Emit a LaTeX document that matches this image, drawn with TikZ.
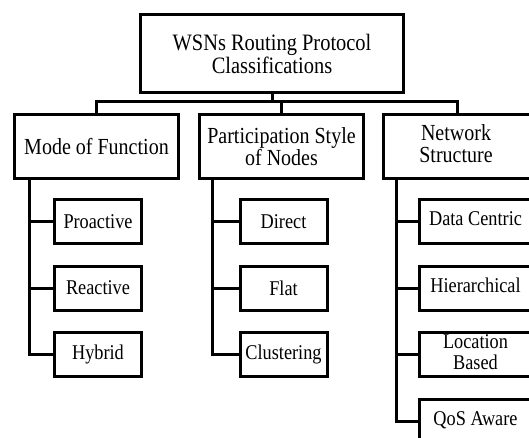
\documentclass[tikz,border=0pt]{standalone}
\usepackage{fontspec}
\setmainfont{Liberation Serif}[FakeStretch=0.87]
% centred text block with extra room on the right, for boxes running past the edge
\newcommand\padright[2]{\begin{tabular}{@{}c@{}}#2\end{tabular}\hspace*{#1}}
\begin{document}
\begin{tikzpicture}[x=1pt,y=-1pt,line width=3pt,
  box/.style={draw,inner sep=0pt,align=center,line width=3pt},
  root/.style={box,minimum width=263pt,minimum height=78pt,font=\fontsize{23.5}{23}\selectfont},
  cat/.style={box,minimum width=164pt,minimum height=64pt,font=\fontsize{23}{22}\selectfont},
  leaf/.style={box,minimum width=87pt,minimum height=44pt,font=\fontsize{21}{21}\selectfont},
  link/.style={line width=3pt}]
\useasboundingbox (0,0) rectangle (529,438);

% root and the three categories
\node[root] (root) at (272,53.5) {WSNs Routing Protocol\\Classifications};
\node[cat] (mode) at (96.5,146.5) {Mode of Function};
\node[cat] (part) at (281.5,146.5) {Participation Style\\of Nodes};
\node[cat,minimum width=165pt,align=none] (net) at (466,146.5)
  {\padright{20pt}{Network\\Structure}};

% leaves
\node[leaf] (pro) at (98,221.5) {Proactive};
\node[leaf] (rea) at (98,288) {Reactive};
\node[leaf] (hyb) at (98,354.5) {Hybrid};
\node[leaf] (dir) at (283.5,221.5) {Direct};
\node[leaf] (flat) at (283.5,288) {Flat};
\node[leaf] (clu) at (283.5,354.5) {Clustering};
\node[leaf,minimum width=131pt,align=none] (dc) at (485,221.5) {\padright{19pt}{Data Centric}};
\node[leaf,minimum width=131pt,align=none] (hier) at (485,288) {\padright{19pt}{Hierarchical}};
\node[leaf,minimum width=131pt,align=none] (loc) at (485,354.5) {\padright{19pt}{Location\\Based}};
\node[leaf,minimum width=131pt,align=none] (qos) at (485,421) {\padright{19pt}{QoS Aware}};

% bus under the root
\coordinate (bus) at (272,102);
\draw[link] (root.south) -- (bus);
\draw[link] (mode.north) |- (bus);
\draw[link] (part.north) |- (bus);
\draw[link] ([xshift=-9pt]net.north) |- (bus);

% spines down to the leaves
\coordinate (s1) at ([xshift=16pt]mode.south west);
\coordinate (s2) at ([xshift=14pt]part.south west);
\coordinate (s3) at ([xshift=14pt]net.south west);
\draw[link] (s1) |- (hyb.west);
\draw[link] (pro.west) -- (pro.west -| s1);
\draw[link] (rea.west) -- (rea.west -| s1);
\draw[link] (s2) |- (clu.west);
\draw[link] (dir.west) -- (dir.west -| s2);
\draw[link] (flat.west) -- (flat.west -| s2);
\draw[link] (s3) |- (qos.west);
\draw[link] (dc.west) -- (dc.west -| s3);
\draw[link] (hier.west) -- (hier.west -| s3);
\draw[link] (loc.west) -- (loc.west -| s3);
\end{tikzpicture}
\end{document}
